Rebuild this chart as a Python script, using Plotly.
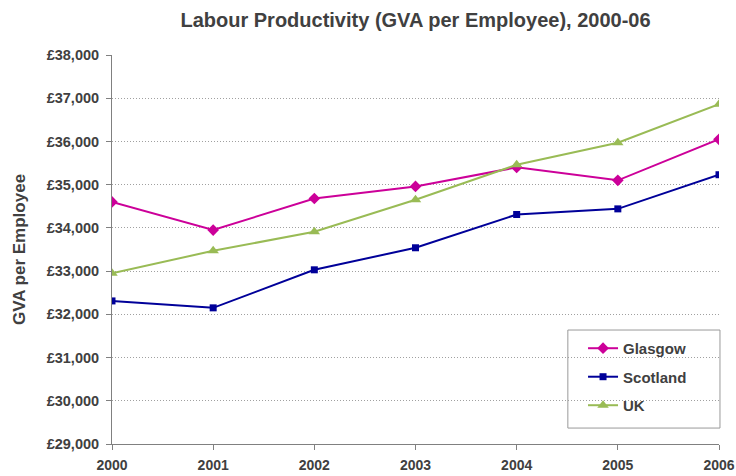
import plotly.graph_objects as go

years = [2000, 2001, 2002, 2003, 2004, 2005, 2006]
glasgow = [34600, 33950, 34680, 34960, 35400, 35100, 36050]
scotland = [32310, 32150, 33030, 33540, 34310, 34440, 35230]
uk = [32950, 33470, 33910, 34650, 35460, 35970, 36860]
y_ticks = list(range(29000, 38001, 1000))
y_labels = [f"£{v:,}" for v in y_ticks]

font_family = "Liberation Sans, Arial, sans-serif"
text_col = "#404040"

fig = go.Figure()
series = [
    ("Glasgow", glasgow, "#CC0099", "diamond", 9),
    ("Scotland", scotland, "#000099", "square", 7),
    ("UK", uk, "#99BB55", "triangle-up", 10),
]
for name, vals, col, sym, sz in series:
    fig.add_trace(go.Scatter(
        x=years, y=vals, name=f"<b>{name}</b>", mode="lines+markers",
        line=dict(color=col, width=2),
        marker=dict(symbol=sym, size=sz, color=col),
        legendgroup=name,
    ))

fig.update_layout(
    width=736, height=476,
    margin=dict(l=112, r=17, t=55, b=32, autoexpand=False),
    paper_bgcolor="white", plot_bgcolor="white",
    font=dict(family=font_family, color=text_col, size=12),
    title=dict(text="<b>Labour Productivity (GVA per Employee), 2000-06</b>",
               x=0.5, xanchor="center", xref="paper", y=1 - 20 / 476, yref="container",
               yanchor="middle",
               font=dict(size=20, color=text_col)),
    xaxis=dict(range=[2000, 2006], tickvals=years, ticktext=[f"<b>{y}</b>" for y in years],
               showline=True, linecolor="#808080", linewidth=1,
               ticks="outside", ticklen=5, tickcolor="#808080", automargin=False,
               ticklabelstandoff=3,
               showgrid=False, zeroline=False, tickfont=dict(size=14)),
    yaxis=dict(range=[29000, 38000], tickvals=y_ticks, ticktext=[f"<b>{l}</b>" for l in y_labels],
               showline=True, linecolor="#808080", linewidth=1,
               ticks="outside", ticklen=5, tickcolor="#808080", automargin=False,
               ticklabelstandoff=4,
               showgrid=True, gridcolor="#A0A0A0", griddash="1px,2px", gridwidth=1,
               zeroline=False, tickfont=dict(size=14.5),
               title=dict(text="<b>GVA per Employee</b>", font=dict(size=17), standoff=16)),
    legend=dict(x=0.776, y=0.288, xanchor="left", yanchor="top",
                bgcolor="rgba(0,0,0,0)", borderwidth=0,
                font=dict(size=15, color=text_col), traceorder="grouped",
                tracegroupgap=6, itemwidth=30),
    shapes=[dict(type="rect", xref="paper", yref="paper",
                 x0=0.751, x1=1.0016, y0=0.041, y1=0.293,
                 line=dict(color="#999999", width=1), fillcolor="white", layer="below")],
)
fig.write_html("out.html", config={"displayModeBar": False},
               post_script="document.body.style.margin='0';")
